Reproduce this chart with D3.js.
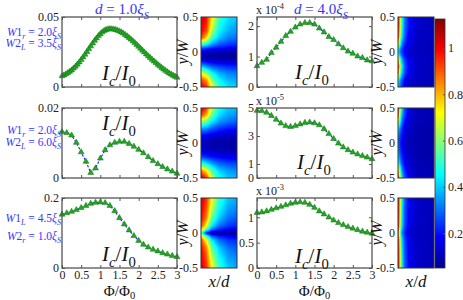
<!DOCTYPE html>
<html>
<head>
<meta charset="utf-8">
<script src="https://cdn.jsdelivr.net/npm/d3@7"></script>
<style>
  body { margin: 0; background: #fff; }
  svg { display: block; }
  text { font-family: "Liberation Serif", "DejaVu Serif", serif; }
</style>
</head>
<body>
<svg id="chart" width="463" height="300"></svg>
<script>
// ---- data ----
var phiGrid = [0, 0.125, 0.25, 0.375, 0.5, 0.625, 0.75, 0.875, 1, 1.125, 1.25, 1.375, 1.5,
  1.625, 1.75, 1.875, 2, 2.125, 2.25, 2.375, 2.5, 2.625, 2.75, 2.875, 3]
var phiFine = [0, 0.05, 0.1, 0.15, 0.2, 0.25, 0.3, 0.35, 0.4, 0.45, 0.5, 0.55, 0.6, 0.65, 0.7,
  0.75, 0.8, 0.85, 0.9, 0.95, 1, 1.05, 1.1, 1.15, 1.2, 1.25, 1.3, 1.35, 1.4, 1.45, 1.5, 1.55,
  1.6, 1.65, 1.7, 1.75, 1.8, 1.85, 1.9, 1.95, 2, 2.05, 2.1, 2.15, 2.2, 2.25, 2.3, 2.35, 2.4,
  2.45, 2.5, 2.55, 2.6, 2.65, 2.7, 2.75, 2.8, 2.85, 2.9, 2.95, 3]

var ic1L = [0.0078, 0.0084, 0.0092, 0.0100, 0.0110, 0.0120, 0.0133, 0.0146, 0.0161, 0.0177,
  0.0195, 0.0213, 0.0232, 0.0252, 0.0272, 0.0292, 0.0312, 0.0331, 0.0348, 0.0365, 0.0379,
  0.0392, 0.0402, 0.0409, 0.0413, 0.0415, 0.0414, 0.0412, 0.0409, 0.0404, 0.0398, 0.0391,
  0.0383, 0.0373, 0.0363, 0.0352, 0.0340, 0.0328, 0.0315, 0.0302, 0.0289, 0.0275, 0.0261,
  0.0248, 0.0234, 0.0221, 0.0209, 0.0196, 0.0184, 0.0173, 0.0160, 0.0149, 0.0138, 0.0127,
  0.0117, 0.0107, 0.0098, 0.0090, 0.0082, 0.0075, 0.0068]
var ic2L = [0.0132, 0.0129, 0.0122, 0.0101, 0.0074, 0.0047, 0.0015, 0.0028, 0.0056, 0.0080,
  0.0094, 0.0101, 0.0104, 0.0104, 0.0098, 0.0090, 0.0081, 0.0071, 0.0060, 0.0049, 0.0040,
  0.0032, 0.0025, 0.0019, 0.0013]
var ic3L = [0.153, 0.157, 0.161, 0.166, 0.172, 0.178, 0.184, 0.187, 0.188, 0.186, 0.178,
  0.163, 0.143, 0.125, 0.108, 0.092, 0.078, 0.067, 0.059, 0.053, 0.048, 0.043, 0.039, 0.035, 0.032]
// right column, in units of the axis multiplier
var ic1R = [0.69, 0.80, 0.90, 1.12, 1.30, 1.49, 1.68, 1.82, 1.96, 2.06, 2.11, 2.11, 2.06,
  1.93, 1.80, 1.65, 1.55, 1.41, 1.28, 1.17, 1.10, 1.01, 0.96, 0.88, 0.85]
var ic2R = [4.81, 4.80, 4.68, 4.45, 4.18, 3.90, 3.72, 3.66, 3.72, 3.84, 3.95, 3.98, 3.92,
  3.78, 3.50, 3.15, 2.80, 2.47, 2.20, 2.00, 1.83, 1.70, 1.58, 1.47, 1.36]
var ic3R = [1.09, 1.10, 1.12, 1.15, 1.18, 1.21, 1.24, 1.27, 1.29, 1.30, 1.29, 1.25, 1.19,
  1.12, 1.06, 1.00, 0.94, 0.89, 0.85, 0.81, 0.78, 0.75, 0.72, 0.70, 0.68]

var phiTicks = [0, 0.5, 1, 1.5, 2, 2.5, 3]
var phiTickLabels = ['0', '0.5', '1', '1.5', '2', '2.5', '3']

var yDom1L = [0, 0.05], yTicks1L = [0, 0.05], yLab1L = ['0', '0.05']
var yDom2L = [0, 0.02], yTicks2L = [0, 0.02], yLab2L = ['0', '0.02']
var yDom3L = [0, 0.2], yTicks3L = [0, 0.2], yLab3L = ['0', '0.2']
var yDom1R = [0, 2.3], yTicks1R = [0, 1, 2], yLab1R = ['0', '1', '2']
var yDom2R = [0, 5], yTicks2R = [0, 1, 3, 5], yLab2R = ['0', '1', '3', '5']
var yDom3R = [0, 1.38], yTicks3R = [0, 0.5, 1], yLab3R = ['0', '0.5', '1']
var expo = ['-4', '-5', '-3']

var titles = [['d', ' = 1.0', 'S'], ['d', ' = 4.0', 'S']]
var wLabels = [
  [['1', 'r', ' = 2.0'], ['2', 'L', ' = 3.5']],
  [['1', 'r', ' = 2.0'], ['2', 'L', ' = 6.0']],
  [['1', 'L', ' = 4.5'], ['2', 'r', ' = 1.0']]
]

// current density maps: columns at x/d, rows at y/W
var mapXL = [0, 0.15, 0.3, 0.5, 0.75, 1]
var mapXR = [0, 0.04, 0.1, 0.18, 0.3, 0.5, 1]
var mapY = [0.5, 0.4, 0.3, 0.2, 0.1, 0.05, 0, -0.05, -0.1, -0.2, -0.3, -0.4, -0.5]
var mapYTicks = [0.5, 0, -0.5], mapYLabels = ['0.5', '0', '-0.5']

var map1L = [
  [1.04, 0.98, 0.74, 0.52, 0.43, 0.40],
  [1.02, 0.96, 0.70, 0.49, 0.40, 0.37],
  [1.00, 0.92, 0.64, 0.45, 0.37, 0.34],
  [0.92, 0.76, 0.52, 0.39, 0.32, 0.30],
  [0.48, 0.42, 0.33, 0.27, 0.24, 0.22],
  [0.26, 0.23, 0.20, 0.18, 0.16, 0.15],
  [0.14, 0.12, 0.11, 0.10, 0.09, 0.09],
  [0.10, 0.08, 0.07, 0.07, 0.06, 0.06],
  [0.12, 0.10, 0.09, 0.08, 0.08, 0.08],
  [0.38, 0.32, 0.27, 0.24, 0.22, 0.21],
  [0.70, 0.60, 0.46, 0.37, 0.32, 0.31],
  [0.92, 0.84, 0.60, 0.45, 0.38, 0.36],
  [1.02, 0.95, 0.70, 0.51, 0.43, 0.41]]
var map2L = [
  [1.04, 0.94, 0.66, 0.47, 0.40, 0.38],
  [0.94, 0.80, 0.57, 0.42, 0.36, 0.34],
  [0.62, 0.54, 0.43, 0.34, 0.30, 0.28],
  [0.35, 0.32, 0.27, 0.23, 0.20, 0.19],
  [0.18, 0.16, 0.14, 0.12, 0.11, 0.11],
  [0.14, 0.12, 0.10, 0.09, 0.09, 0.09],
  [0.12, 0.10, 0.09, 0.08, 0.08, 0.08],
  [0.12, 0.10, 0.09, 0.08, 0.08, 0.08],
  [0.14, 0.12, 0.10, 0.09, 0.09, 0.09],
  [0.26, 0.23, 0.20, 0.18, 0.16, 0.15],
  [0.52, 0.45, 0.37, 0.30, 0.27, 0.26],
  [0.88, 0.75, 0.54, 0.41, 0.35, 0.33],
  [1.04, 0.94, 0.66, 0.48, 0.40, 0.38]]
var map3L = [
  [1.04, 0.94, 0.72, 0.51, 0.40, 0.36],
  [1.02, 0.92, 0.68, 0.48, 0.37, 0.34],
  [1.01, 0.89, 0.62, 0.44, 0.34, 0.31],
  [0.99, 0.84, 0.55, 0.39, 0.30, 0.27],
  [0.93, 0.70, 0.43, 0.30, 0.24, 0.22],
  [0.80, 0.52, 0.30, 0.22, 0.18, 0.16],
  [0.55, 0.20, 0.09, 0.07, 0.06, 0.06],
  [0.80, 0.52, 0.30, 0.22, 0.18, 0.16],
  [0.93, 0.70, 0.43, 0.30, 0.24, 0.22],
  [0.99, 0.84, 0.55, 0.39, 0.30, 0.27],
  [1.01, 0.89, 0.62, 0.44, 0.34, 0.31],
  [1.02, 0.92, 0.68, 0.48, 0.37, 0.34],
  [1.04, 0.94, 0.72, 0.51, 0.40, 0.36]]
var map1R = [
  [1.00, 0.85, 0.50, 0.32, 0.20, 0.13, 0.10],
  [1.00, 0.85, 0.50, 0.32, 0.20, 0.13, 0.10],
  [0.98, 0.82, 0.48, 0.30, 0.19, 0.12, 0.10],
  [0.95, 0.76, 0.44, 0.28, 0.17, 0.12, 0.10],
  [0.72, 0.55, 0.33, 0.22, 0.15, 0.11, 0.10],
  [0.52, 0.40, 0.27, 0.19, 0.13, 0.11, 0.10],
  [0.45, 0.36, 0.25, 0.18, 0.13, 0.11, 0.10],
  [0.55, 0.43, 0.29, 0.20, 0.14, 0.11, 0.10],
  [0.80, 0.62, 0.38, 0.25, 0.16, 0.12, 0.10],
  [0.98, 0.80, 0.46, 0.29, 0.18, 0.12, 0.10],
  [0.90, 0.70, 0.42, 0.27, 0.17, 0.12, 0.10],
  [0.50, 0.40, 0.28, 0.19, 0.13, 0.11, 0.10],
  [0.40, 0.33, 0.24, 0.17, 0.12, 0.10, 0.09]]
var map2R = [
  [1.00, 0.80, 0.45, 0.28, 0.17, 0.11, 0.09],
  [0.95, 0.72, 0.40, 0.25, 0.15, 0.10, 0.09],
  [0.70, 0.52, 0.32, 0.20, 0.13, 0.10, 0.09],
  [0.45, 0.35, 0.24, 0.16, 0.12, 0.09, 0.08],
  [0.35, 0.28, 0.20, 0.14, 0.11, 0.09, 0.08],
  [0.33, 0.26, 0.19, 0.13, 0.10, 0.09, 0.08],
  [0.32, 0.26, 0.18, 0.13, 0.10, 0.09, 0.08],
  [0.33, 0.26, 0.19, 0.13, 0.10, 0.09, 0.08],
  [0.35, 0.28, 0.20, 0.14, 0.11, 0.09, 0.08],
  [0.42, 0.33, 0.23, 0.16, 0.12, 0.09, 0.08],
  [0.55, 0.43, 0.28, 0.18, 0.13, 0.10, 0.09],
  [0.85, 0.65, 0.38, 0.23, 0.15, 0.10, 0.09],
  [1.00, 0.80, 0.45, 0.28, 0.17, 0.11, 0.09]]
var map3R = [
  [1.02, 0.85, 0.48, 0.30, 0.18, 0.12, 0.10],
  [1.02, 0.85, 0.47, 0.29, 0.18, 0.12, 0.10],
  [1.02, 0.84, 0.46, 0.28, 0.17, 0.12, 0.10],
  [1.01, 0.83, 0.45, 0.28, 0.17, 0.12, 0.10],
  [1.00, 0.80, 0.43, 0.27, 0.16, 0.11, 0.10],
  [0.98, 0.75, 0.40, 0.25, 0.15, 0.11, 0.10],
  [0.95, 0.68, 0.36, 0.22, 0.14, 0.11, 0.10],
  [0.98, 0.75, 0.40, 0.25, 0.15, 0.11, 0.10],
  [1.00, 0.80, 0.43, 0.27, 0.16, 0.11, 0.10],
  [1.01, 0.83, 0.45, 0.28, 0.17, 0.12, 0.10],
  [1.02, 0.84, 0.46, 0.28, 0.17, 0.12, 0.10],
  [1.02, 0.85, 0.47, 0.29, 0.18, 0.12, 0.10],
  [1.02, 0.85, 0.48, 0.30, 0.18, 0.12, 0.10]]

var cbDomain = [0.05, 1.125]
var cbTicks = [0.2, 0.4, 0.6, 0.8, 1], cbLabels = ['0.2', '0.4', '0.6', '0.8', '1']

// ---- layout ----
var plotW = 115, plotH = 70
var colLeft = [62, 257], rowTop = [17, 108, 198]
var mapLeft = [201, 398], mapW = 36
var cb = {x: 435, w: 10, top: 19, bottom: 268}
var frameColor = '#555', blue = '#3535ff'

var svg = d3.select('#chart')

// MATLAB jet
var span = cbDomain[1] - cbDomain[0]
var jet = d3.scaleLinear()
  .domain([0, 0.125, 0.375, 0.625, 0.875, 1].map(function(t) {return cbDomain[0] + t * span}))
  .range(['#00008f', '#0000ff', '#00ffff', '#ffff00', '#ff0000', '#800000'])
  .clamp(true)

// text with sub/superscripts; flags: i italic, s sub, p sup
function rich(sel, parts, size, subShift) {
  var shift = 0, down = subShift || 0.3
  parts.forEach(function(p) {
    var f = p[1] || ''
    var target = f.indexOf('s') >= 0 ? size * down : (f.indexOf('p') >= 0 ? -size * 0.42 : 0)
    var t = sel.append('tspan').text(p[0]).attr('dy', target - shift)
    shift = target
    if (target !== 0) t.attr('font-size', size * 0.7)
    if (f.indexOf('i') >= 0) t.attr('font-style', 'italic')
  })
  return sel
}

function styleAxis(g, size) {
  g.select('.domain').remove()
  g.selectAll('.tick line').attr('stroke', frameColor)
  g.selectAll('.tick text').attr('font-family', '"Liberation Serif", serif')
    .attr('font-size', size).attr('fill', '#222')
}

function linePanel(c, r, xs, ys, yDom, yTicks, yLabs, icPos) {
  var left = colLeft[c], top = rowTop[r]
  var x = d3.scaleLinear().domain([0, 3]).range([left, left + plotW])
  var y = d3.scaleLinear().domain(yDom).range([top + plotH, top])
  var g = svg.append('g')

  g.append('g').attr('transform', 'translate(0,' + (top + plotH) + ')')
    .call(d3.axisBottom(x).tickValues(phiTicks).tickSize(-3).tickPadding(2)
      .tickFormat(function(d, i) {return r === 2 ? phiTickLabels[i] : ''}))
    .call(styleAxis, 12)
  g.append('g').attr('transform', 'translate(0,' + top + ')')
    .call(d3.axisTop(x).tickValues(phiTicks).tickSize(-3).tickFormat(''))
    .call(styleAxis, 12)
  g.append('g').attr('transform', 'translate(' + left + ',0)')
    .call(d3.axisLeft(y).tickValues(yTicks).tickSize(-3).tickPadding(3)
      .tickFormat(function(d, i) {return yLabs[i]}))
    .call(styleAxis, 12)
  g.append('g').attr('transform', 'translate(' + (left + plotW) + ',0)')
    .call(d3.axisRight(y).tickValues(yTicks).tickSize(-3).tickFormat(''))
    .call(styleAxis, 12)

  var pts = xs.map(function(v, i) {return [v, ys[i]]})
  g.append('path')
    .attr('d', d3.line().x(function(d) {return x(d[0])}).y(function(d) {return y(d[1])})(pts))
    .attr('fill', 'none').attr('stroke', '#1f1fff').attr('stroke-width', 1.1)
    .attr('stroke-dasharray', '2.5,1.5')
  g.selectAll('.tri').data(pts).enter().append('path')
    .attr('class', 'tri')
    .attr('d', d3.symbol().type(d3.symbolTriangle).size(15))
    .attr('transform', function(d) {return 'translate(' + x(d[0]) + ',' + y(d[1]) + ')'})
    .attr('fill', '#22a722').attr('stroke', '#127512').attr('stroke-width', 0.5)

  g.append('rect').attr('x', left).attr('y', top).attr('width', plotW).attr('height', plotH)
    .attr('fill', 'none').attr('stroke', frameColor).attr('stroke-width', 1.3)

  rich(g.append('text').attr('x', left + icPos[0]).attr('y', top + icPos[1])
    .attr('font-size', 21).attr('fill', '#111'),
    [['I', 'i'], ['c', 'is'], ['/', ''], ['I', 'i'], ['0', 's']], 21)

  if (r === 2) {
    rich(g.append('text').attr('x', left + plotW / 2).attr('y', 296)
      .attr('text-anchor', 'middle').attr('font-size', 15).attr('fill', '#111'),
      [['Φ', ''], ['/Φ', ''], ['0', 's']], 15, 0.2)
  }
  return g
}

function mapImage(grid, xs, w, h) {
  var fx = d3.scaleLinear().domain(xs).range(d3.range(xs.length)).clamp(true)
  var fy = d3.scaleLinear().domain(mapY).range(d3.range(mapY.length)).clamp(true)
  var cv = document.createElement('canvas')
  cv.width = w; cv.height = h
  var ctx = cv.getContext('2d'), img = ctx.createImageData(w, h)
  for (var j = 0; j < h; j++) {
    var gy = fy(0.5 - (j + 0.5) / h), j0 = Math.min(Math.floor(gy), mapY.length - 2), ty = gy - j0
    for (var i = 0; i < w; i++) {
      var gx = fx((i + 0.5) / w), i0 = Math.min(Math.floor(gx), xs.length - 2), tx = gx - i0
      var v = (1 - ty) * ((1 - tx) * grid[j0][i0] + tx * grid[j0][i0 + 1]) +
        ty * ((1 - tx) * grid[j0 + 1][i0] + tx * grid[j0 + 1][i0 + 1])
      var col = d3.rgb(jet(v)), k = 4 * (j * w + i)
      img.data[k] = col.r; img.data[k + 1] = col.g; img.data[k + 2] = col.b; img.data[k + 3] = 255
    }
  }
  ctx.putImageData(img, 0, 0)
  return cv.toDataURL()
}

function mapPanel(c, r, grid, xs) {
  var left = mapLeft[c], top = rowTop[r]
  var mx = d3.scaleLinear().domain([0, 1]).range([left, left + mapW])
  var my = d3.scaleLinear().domain([-0.5, 0.5]).range([top + plotH, top])
  var g = svg.append('g')
  g.append('image')
    .attr('href', mapImage(grid, xs, Math.round(mx(1) - mx(0)), Math.round(my(-0.5) - my(0.5))))
    .attr('x', mx(0)).attr('y', my(0.5))
    .attr('width', mx(1) - mx(0)).attr('height', my(-0.5) - my(0.5))
    .attr('preserveAspectRatio', 'none')
  g.append('rect').attr('x', mx(0)).attr('y', my(0.5))
    .attr('width', mx(1) - mx(0)).attr('height', my(-0.5) - my(0.5))
    .attr('fill', 'none').attr('stroke', '#333').attr('stroke-width', 1)
  g.append('g').attr('transform', 'translate(' + mx(0) + ',0)')
    .call(d3.axisLeft(my).tickValues(mapYTicks).tickSize(0).tickPadding(3)
      .tickFormat(function(d, i) {return mapYLabels[i]}))
    .call(styleAxis, 12)
  var lx = c === 0 ? 188 : 382
  rich(g.append('text').attr('transform', 'translate(' + lx + ',' + my(0) + ') rotate(-90)')
    .attr('text-anchor', 'middle').attr('font-size', 16).attr('fill', '#111'),
    [['y', 'i'], ['/', ''], ['W', 'i']], 16)
  if (r === 2) {
    rich(g.append('text').attr('x', mx(0.5)).attr('y', 287)
      .attr('text-anchor', 'middle').attr('font-size', 17).attr('fill', '#111'),
      [['x', 'i'], ['/', ''], ['d', 'i']], 17)
  }
}

// ---- panels ----
linePanel(0, 0, phiFine, ic1L, yDom1L, yTicks1L, yLab1L, [40, 63])
linePanel(0, 1, phiGrid, ic2L, yDom2L, yTicks2L, yLab2L, [40, 22])
linePanel(0, 2, phiGrid, ic3L, yDom3L, yTicks3L, yLab3L, [40, 63])
linePanel(1, 0, phiGrid, ic1R, yDom1R, yTicks1R, yLab1R, [38, 62])
linePanel(1, 1, phiGrid, ic2R, yDom2R, yTicks2R, yLab2R, [40, 61])
linePanel(1, 2, phiGrid, ic3R, yDom3R, yTicks3R, yLab3R, [38, 65])

mapPanel(0, 0, map1L, mapXL)
mapPanel(0, 1, map2L, mapXL)
mapPanel(0, 2, map3L, mapXL)
mapPanel(1, 0, map1R, mapXR)
mapPanel(1, 1, map2R, mapXR)
mapPanel(1, 2, map3R, mapXR)

// multipliers on right column
expo.forEach(function(e, r) {
  rich(svg.append('text').attr('x', colLeft[1] - 1).attr('y', rowTop[r] - 3)
    .attr('font-size', 12).attr('fill', '#222'),
    [['x 10', ''], [e, 'p']], 12)
})

// titles
titles.forEach(function(t, c) {
  rich(svg.append('text').attr('x', c === 0 ? 95 : 294).attr('y', 14)
    .attr('font-size', 15).attr('fill', blue),
    [[t[0], 'i'], [t[1], ''], ['ξ', 'i'], [t[2], 'is']], 15)
})

// width labels
var wBase = [[36, 47], [134, 146], [222, 240]]
wLabels.forEach(function(rowLabs, r) {
  rowLabs.forEach(function(l, k) {
    rich(svg.append('text').attr('x', 61).attr('y', wBase[r][k])
      .attr('text-anchor', 'end').attr('font-size', 11.5).attr('fill', blue),
      [['W', 'i'], [l[0], ''], [l[1], 'is'], [l[2], ''], ['ξ', 'i'], ['S', 'is']], 11.5)
  })
})

// colorbar
var cy = d3.scaleLinear().domain(cbDomain).range([cb.bottom, cb.top])
var grad = svg.append('defs').append('linearGradient').attr('id', 'jetgrad')
  .attr('x1', 0).attr('y1', 1).attr('x2', 0).attr('y2', 0)
grad.selectAll('stop').data(jet.domain()).enter().append('stop')
  .attr('offset', function(d) {return (d - cbDomain[0]) / span})
  .attr('stop-color', function(d) {return jet(d)})
svg.append('rect').attr('x', cb.x).attr('y', cb.top).attr('width', cb.w)
  .attr('height', cb.bottom - cb.top).attr('fill', 'url(#jetgrad)')
  .attr('stroke', '#333').attr('stroke-width', 0.8)
svg.append('g').attr('transform', 'translate(' + (cb.x + cb.w) + ',0)')
  .call(d3.axisRight(cy).tickValues(cbTicks).tickSize(-2).tickPadding(3)
    .tickFormat(function(d, i) {return cbLabels[i]}))
  .call(styleAxis, 12)
</script>
</body>
</html>
